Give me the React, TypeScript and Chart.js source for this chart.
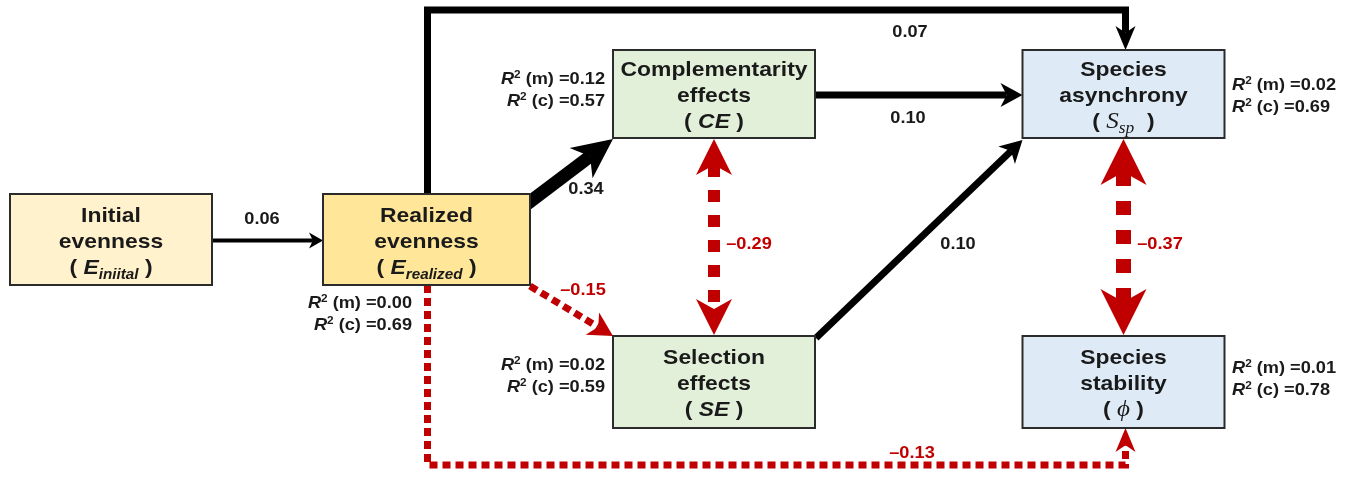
import React, { useEffect, useRef } from "react";
import { Chart, registerables } from "chart.js";
Chart.register(...registerables);

// ---------- DATA ----------
const nodeIds = ["Einit", "Ereal", "CE", "SE", "Ssp", "Phi"];
const nodeTitles = [
  ["Initial", "evenness"],
  ["Realized", "evenness"],
  ["Complementarity", "effects"],
  ["Selection", "effects"],
  ["Species", "asynchrony"],
  ["Species", "stability"],
];
const nodeSymbols = ["E", "E", "CE", "SE", "S", "\u03D5"];
const nodeSubscripts = ["iniital", "realized", "", "", "sp", ""];
const nodeX = [111, 426.5, 714, 714, 1123.5, 1123.5];
const nodeY = [239.5, 239.5, 94, 382, 94, 382];
const r2Marginal = [null, 0.0, 0.12, 0.02, 0.02, 0.01];
const r2Conditional = [null, 0.69, 0.57, 0.59, 0.69, 0.78];

const pathFrom = ["Einit", "Ereal", "Ereal", "CE", "SE", "Ereal", "Ereal", "CE", "Ssp"];
const pathTo = ["Ereal", "Ssp", "CE", "Ssp", "Ssp", "SE", "Phi", "SE", "Phi"];
const pathCoef = [0.06, 0.07, 0.34, 0.1, 0.1, -0.15, -0.13, -0.29, -0.37];

// ---------- LAYOUT / STYLE ----------
const W = 1351;
const H = 477;
const FONT = "'Liberation Sans', Arial, sans-serif";
const SERIF = "'Liberation Serif', 'DejaVu Serif', serif";
const RED = "#c00000";
const TITLE_STRETCH = 1.09;
const LABEL_STRETCH = 1.07;
const nodeW = [202, 207, 202, 202, 202, 202];
const nodeH = [91, 91, 88, 92, 88, 92];
const nodeFill = ["#fff2cc", "#ffe699", "#e2f0d9", "#e2f0d9", "#deebf7", "#deebf7"];
const symbolSerif = [false, false, false, false, true, true];
const r2Side = ["", "right", "right", "right", "left", "left"];
const r2AnchorX = [0, 412, 605, 605, 1232, 1232];
const r2AnchorY = [0, 302, 78, 364, 84, 367];

const pathRoute = ["h", "elbowTop", "diagUp", "h", "diagUp2", "diagDown", "elbowBottom", "v", "v"];
const pathLW = [4, 7, 13, 7, 7, 7, 7, 12, 15];
const pathDash = [[], [], [], [], [], [8, 5], [8, 5], [12, 13], [14, 15]];
const pathHead = [14, 24, 40, 22, 22, 24, 24, 36, 46];
const pathHeadW = [8, 10, 19, 12, 12, 13, 10, 18, 23];
const labelPosX = [262, 910, 586, 908, 958, 583, 912, 749, 1160];
const labelPosY = [218, 31, 188, 117, 243, 289, 452, 243, 243];

type Seg = { t: string; f: string; dy?: number; c?: string };

function drawRich(ctx: CanvasRenderingContext2D, segs: Seg[], x: number, y: number, align: "center" | "left" | "right", color: string, stretch: number) {
  ctx.save();
  ctx.textBaseline = "alphabetic";
  ctx.textAlign = "left";
  let total = 0;
  const widths = segs.map((s) => {
    ctx.font = s.f;
    const w = ctx.measureText(s.t).width;
    total += w;
    return w;
  });
  const sw = total * stretch;
  const start = align === "center" ? x - sw / 2 : align === "right" ? x - sw : x;
  ctx.translate(start, y);
  ctx.scale(stretch, 1);
  let cx = 0;
  segs.forEach((s, i) => {
    ctx.font = s.f;
    ctx.fillStyle = s.c || color;
    ctx.fillText(s.t, cx, s.dy || 0);
    cx += widths[i];
  });
  ctx.restore();
}

function fmtCoef(v: number) {
  const s = Math.abs(v).toFixed(2);
  return v < 0 ? "\u2013" + s : s;
}

function arrowHead(ctx: CanvasRenderingContext2D, from: number[], tip: number[], len: number, hw: number, color: string) {
  const dx = tip[0] - from[0];
  const dy = tip[1] - from[1];
  const L = Math.hypot(dx, dy);
  const ux = dx / L, uy = dy / L;
  const nx = -uy, ny = ux;
  const bx = tip[0] - ux * len, by = tip[1] - uy * len;
  const mx = tip[0] - ux * len * 0.72, my = tip[1] - uy * len * 0.72;
  ctx.fillStyle = color;
  ctx.beginPath();
  ctx.moveTo(tip[0], tip[1]);
  ctx.lineTo(bx + nx * hw, by + ny * hw);
  ctx.lineTo(mx, my);
  ctx.lineTo(bx - nx * hw, by - ny * hw);
  ctx.closePath();
  ctx.fill();
}

function shorten(a: number[], b: number[], d: number) {
  const dx = b[0] - a[0], dy = b[1] - a[1];
  const L = Math.hypot(dx, dy);
  return [b[0] - (dx / L) * d, b[1] - (dy / L) * d];
}

function drawArrow(ctx: CanvasRenderingContext2D, pts: number[][], lw: number, dash: number[], len: number, hw: number, color: string, dbl: boolean) {
  const n = pts.length;
  const line = pts.map((p) => [p[0], p[1]]);
  line[n - 1] = shorten(pts[n - 2], pts[n - 1], len * 0.72);
  if (dbl) line[0] = shorten(pts[1], pts[0], len * 0.72);
  ctx.save();
  ctx.strokeStyle = color;
  ctx.lineWidth = lw;
  ctx.lineCap = "butt";
  ctx.lineJoin = "miter";
  ctx.setLineDash(dash);
  ctx.beginPath();
  ctx.moveTo(line[0][0], line[0][1]);
  for (let i = 1; i < n; i++) ctx.lineTo(line[i][0], line[i][1]);
  ctx.stroke();
  ctx.setLineDash([]);
  arrowHead(ctx, pts[n - 2], pts[n - 1], len, hw, color);
  if (dbl) arrowHead(ctx, pts[1], pts[0], len, hw, color);
  ctx.restore();
}

const diagramPlugin = {
  id: "pathDiagram",
  afterDatasetsDraw(chart: any) {
    const ctx: CanvasRenderingContext2D = chart.ctx;
    const xs = chart.scales.x;
    const ys = chart.scales.y;
    const P = (x: number, y: number) => [xs.getPixelForValue(x), ys.getPixelForValue(y)];
    const box = (id: string) => {
      const i = nodeIds.indexOf(id);
      return {
        cx: nodeX[i], cy: nodeY[i],
        l: nodeX[i] - nodeW[i] / 2, r: nodeX[i] + nodeW[i] / 2,
        t: nodeY[i] - nodeH[i] / 2, b: nodeY[i] + nodeH[i] / 2,
      };
    };

    pathFrom.forEach((fid, k) => {
      const a = box(fid);
      const b = box(pathTo[k]);
      let pts: number[][] = [];
      const route = pathRoute[k];
      if (route === "h") pts = [P(a.r, a.cy + 1), P(b.l, a.cy + 1)];
      else if (route === "elbowTop") pts = [P(a.cx + 1, a.t + 2), P(a.cx + 1, 10), P(b.cx + 2, 10), P(b.cx + 2, b.t)];
      else if (route === "elbowBottom") pts = [P(a.cx + 1, a.b), P(a.cx + 1, 465), P(b.cx + 2, 465), P(b.cx + 2, b.b)];
      else if (route === "diagUp") pts = [P(a.r - 3, a.t + 10), P(b.l, b.b + 1)];
      else if (route === "diagUp2") pts = [P(a.r + 1, a.t + 2), P(b.l, b.b + 2)];
      else if (route === "diagDown") pts = [P(a.r, a.b + 1), P(b.l, b.t)];
      else if (route === "v") pts = [P(a.cx, a.b + 1), P(a.cx, b.t - 1)];
      const color = pathCoef[k] < 0 ? RED : "#000";
      drawArrow(ctx, pts, pathLW[k], pathDash[k], pathHead[k], pathHeadW[k], color, route === "v");
    });

    nodeIds.forEach((id, i) => {
      const b = box(id);
      const [x0, y0] = P(b.l, b.t);
      const [x1, y1] = P(b.r, b.b);
      ctx.save();
      ctx.fillStyle = nodeFill[i];
      ctx.fillRect(x0, y0, x1 - x0, y1 - y0);
      ctx.strokeStyle = "#2b2b2b";
      ctx.lineWidth = 2;
      ctx.strokeRect(x0, y0, x1 - x0, y1 - y0);
      ctx.restore();
      const [cx, cy] = P(b.cx, b.cy);
      const bold = `bold 21px ${FONT}`;
      drawRich(ctx, [{ t: nodeTitles[i][0], f: bold }], cx, cy - 18, "center", "#1a1a1a", TITLE_STRETCH);
      drawRich(ctx, [{ t: nodeTitles[i][1], f: bold }], cx, cy + 8, "center", "#1a1a1a", TITLE_STRETCH);
      const segs: Seg[] = [{ t: "( ", f: bold }];
      if (symbolSerif[i]) {
        segs.push({ t: nodeSymbols[i], f: `italic 23px ${SERIF}` });
        if (nodeSubscripts[i]) segs.push({ t: nodeSubscripts[i], f: `italic 16px ${SERIF}`, dy: 5 });
        segs.push({ t: nodeSubscripts[i] ? "  )" : " )", f: bold });
      } else {
        segs.push({ t: nodeSymbols[i], f: `italic bold 21px ${FONT}` });
        if (nodeSubscripts[i]) segs.push({ t: nodeSubscripts[i], f: `italic bold 14px ${FONT}`, dy: 5 });
        segs.push({ t: " )", f: bold });
      }
      drawRich(ctx, segs, cx, cy + 34, "center", "#1a1a1a", TITLE_STRETCH);

      if (r2Marginal[i] !== null) {
        const side = r2Side[i] === "right" ? "right" : "left";
        const [ax, ay] = P(r2AnchorX[i], r2AnchorY[i]);
        const f = `bold 17px ${FONT}`;
        const mk = (tag: string, v: number): Seg[] => [
          { t: "R", f: `italic bold 17px ${FONT}` },
          { t: "2", f: `bold 11px ${FONT}`, dy: -6 },
          { t: ` (${tag}) =${v.toFixed(2)}`, f },
        ];
        drawRich(ctx, mk("m", r2Marginal[i] as number), ax, ay + 6, side, "#1a1a1a", LABEL_STRETCH);
        drawRich(ctx, mk("c", r2Conditional[i] as number), ax, ay + 28, side, "#1a1a1a", LABEL_STRETCH);
      }
    });

    pathCoef.forEach((v, k) => {
      const [lx, ly] = P(labelPosX[k], labelPosY[k]);
      drawRich(ctx, [{ t: fmtCoef(v), f: `bold 17px ${FONT}` }], lx, ly + 6, "center", v < 0 ? RED : "#1a1a1a", LABEL_STRETCH);
    });
  },
};

export default function App() {
  const ref = useRef<HTMLCanvasElement | null>(null);
  useEffect(() => {
    document.body.style.margin = "0";
    document.body.style.overflow = "hidden";
    const canvas = ref.current;
    if (!canvas) return;
    const chart = new Chart(canvas, {
      type: "scatter",
      data: {
        datasets: [
          {
            data: nodeX.map((x, i) => ({ x, y: nodeY[i] })),
            pointRadius: 0,
            pointHoverRadius: 0,
          },
        ],
      },
      options: {
        animation: false,
        responsive: false,
        devicePixelRatio: 1,
        layout: { padding: 0 },
        events: [],
        plugins: { legend: { display: false }, tooltip: { enabled: false } },
        scales: {
          x: { type: "linear", min: 0, max: W, display: false },
          y: { type: "linear", min: 0, max: H, reverse: true, display: false },
        },
      },
      plugins: [diagramPlugin],
    });
    return () => chart.destroy();
  }, []);
  return (
    <div style={{ width: W, height: H, background: "#ffffff" }}>
      <canvas ref={ref} width={W} height={H} style={{ display: "block" }} />
    </div>
  );
}
